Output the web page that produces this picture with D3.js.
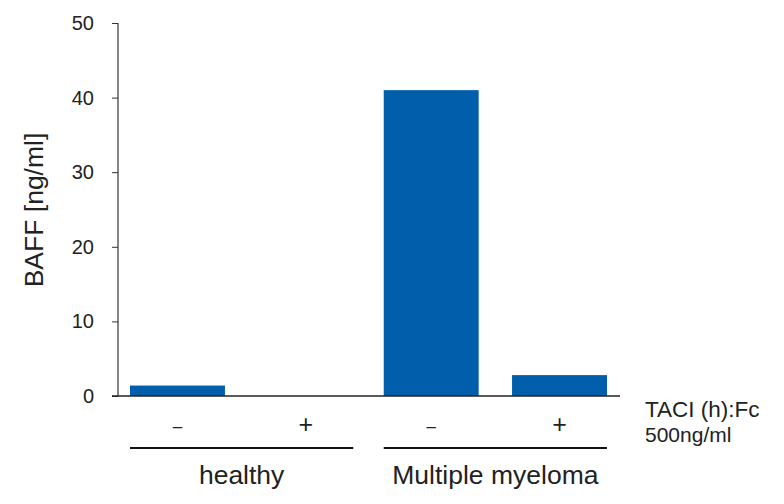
<!DOCTYPE html>
<html><head><meta charset="utf-8">
<script src="https://cdn.jsdelivr.net/npm/d3@7"></script>
<style>body{margin:0;background:#fff}svg{display:block;font-family:"Liberation Sans",Arial,sans-serif}</style>
</head><body>
<svg id="c" width="784" height="504"></svg>
<script>
const groups = ["healthy", "Multiple myeloma"];
const treatments = ["–", "+"];
const values = [[1.4, 0], [41.0, 2.8]];
const yTicks = [0, 10, 20, 30, 40, 50];
const yTitle = "BAFF [ng/ml]";
const legendLines = ["TACI (h):Fc", "500ng/ml"];

const svg = d3.select("#c");
const color = "#005eab";
const y = d3.scaleLinear().domain([0, 50]).range([396, 23]);
const x0 = d3.scaleBand().domain(groups).range([130, 607]).paddingInner(0.12);
const x1 = d3.scaleBand().domain(treatments).range([0, x0.bandwidth()]).paddingInner(0.26);

// bars
groups.forEach((g, gi) => {
  svg.append("g").selectAll("rect").data(values[gi]).join("rect")
    .attr("x", (d, i) => x0(g) + x1(treatments[i]))
    .attr("width", x1.bandwidth())
    .attr("y", d => y(d))
    .attr("height", d => y(0) - y(d))
    .attr("fill", color);
});

// y axis
const axisX = 118;
const ya = svg.append("g").attr("transform", `translate(${axisX},0)`);
ya.call(d3.axisLeft(y).tickValues(d3.range(0, 51, 2)).tickSize(4).tickFormat(""))
  .call(g => g.select(".domain").remove());
ya.call(d3.axisLeft(y).tickValues(yTicks).tickSize(6).tickPadding(18).tickFormat(d3.format("d")))
  .call(g => g.select(".domain").remove());
ya.selectAll("line").attr("stroke", "#333");
ya.selectAll("text").attr("font-size", 20).attr("fill", "#222").attr("font-family", "Liberation Sans, Arial, sans-serif");
ya.append("line").attr("x1", 0).attr("x2", 0).attr("y1", y(50)).attr("y2", y(0)).attr("stroke", "#333").attr("stroke-width", 1.2);

// baseline
svg.append("line").attr("x1", 112).attr("x2", 620).attr("y1", y(0)).attr("y2", y(0))
  .attr("stroke", "#222").attr("stroke-width", 1.5);

// y title
svg.append("text").attr("transform", `translate(43,210) rotate(-90)`)
  .attr("text-anchor", "middle").attr("font-size", 26.5).attr("fill", "#222").text(yTitle);

// treatment signs
groups.forEach(g => {
  svg.append("g").selectAll("text").data(treatments).join("text")
    .attr("x", t => x0(g) + x1(t) + x1.bandwidth() / 2)
    .attr("y", t => t === "+" ? 433 : 432).attr("text-anchor", "middle")
    .attr("font-size", t => t === "+" ? 25 : 17).attr("fill", "#222")
    .text(t => t);
});

// group lines and labels
svg.append("g").selectAll("line").data(groups).join("line")
  .attr("x1", g => x0(g)).attr("x2", g => x0(g) + x0.bandwidth())
  .attr("y1", 448).attr("y2", 448).attr("stroke", "#111").attr("stroke-width", 2);
svg.append("g").selectAll("text").data(groups).join("text")
  .attr("x", g => x0(g) + x0.bandwidth() / 2).attr("y", 484)
  .attr("text-anchor", "middle").attr("font-size", 26.5).attr("fill", "#222").text(g => g);

// legend text
svg.append("g").selectAll("text").data(legendLines).join("text")
  .attr("x", 645).attr("y", (d, i) => 417 + i * 25)
  .attr("font-size", (d, i) => i === 0 ? 22.5 : 21).attr("fill", "#222").text(d => d);
</script>
</body></html>
